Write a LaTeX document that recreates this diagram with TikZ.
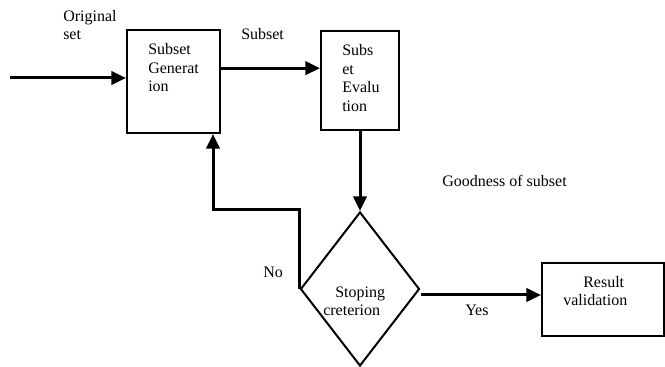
\documentclass[tikz,border=0pt]{standalone}
\usepackage{fontspec}
\setmainfont{Liberation Serif}
\usetikzlibrary{arrows.meta,shapes.geometric}
\begin{document}
\begin{tikzpicture}[x=0.75pt,y=-0.75pt,
  box/.style={draw,line width=1.5pt,rectangle,inner sep=0pt},
  dia/.style={draw,line width=1.5pt,diamond,inner sep=0pt},
  arr/.style={line width=2.25pt,-{Triangle[length=11pt,width=10pt]}},
  ln/.style={line width=2.25pt},
  txt/.style={inner sep=0pt,anchor=base west,font=\fontsize{12pt}{13.8pt}\selectfont}]
\useasboundingbox (0,0) rectangle (665,367);
% shapes
\node[box,minimum width=69.75pt,minimum height=77.25pt] (gen) at (173.5,81.5) {};
\node[box,minimum width=58.5pt,minimum height=74.25pt] (ev) at (360,80.5) {};
\node[box,minimum width=91.5pt,minimum height=54.75pt] (res) at (603,299.5) {};
\node[dia,minimum width=89.25pt,minimum height=115.5pt] (d) at (360,289) {};
% texts
\node[txt] (t1) at (63,22) {Original};
\node[txt] (t2) at (63,40) {set};
\node[txt] (t3) at (241,40) {Subset};
\node[txt] (g1) at (148,55) {Subset};
\node[txt] (g2) at (148,73.5) {Generat};
\node[txt] (g3) at (148,92) {ion};
\node[txt] (e1) at (342,56) {Subs};
\node[txt] (e2) at (342,74.5) {et};
\node[txt] (e3) at (342,93) {Evalu};
\node[txt] (e4) at (342,111.5) {tion};
\node[txt] (good) at (442,187) {Goodness of subset};
\node[txt] (no) at (263,278) {No};
\node[txt] (s1) at (335,298) {Stoping};
\node[txt] (s2) at (323,316) {creterion};
\node[txt] (yes) at (465,316) {Yes};
\node[txt] (r1) at (583,287.5) {Result};
\node[txt] (r2) at (563,306) {validation};
% connectors
\coordinate (start) at (10,78);
\coordinate (noc) at (213,210);
\draw[arr] (start) -- (start -| gen.west);
\draw[arr] ([yshift=10pt]gen.east) -- ([yshift=10pt]gen.east -| ev.west);
\draw[arr] (ev.south) -- (d.north);
\draw[arr] ([yshift=-4.5pt]d.east) -- ([yshift=-4.5pt]d.east -| res.west);
\draw[arr] (d.west) |- (noc) -- (noc |- gen.south);
\end{tikzpicture}
\end{document}
